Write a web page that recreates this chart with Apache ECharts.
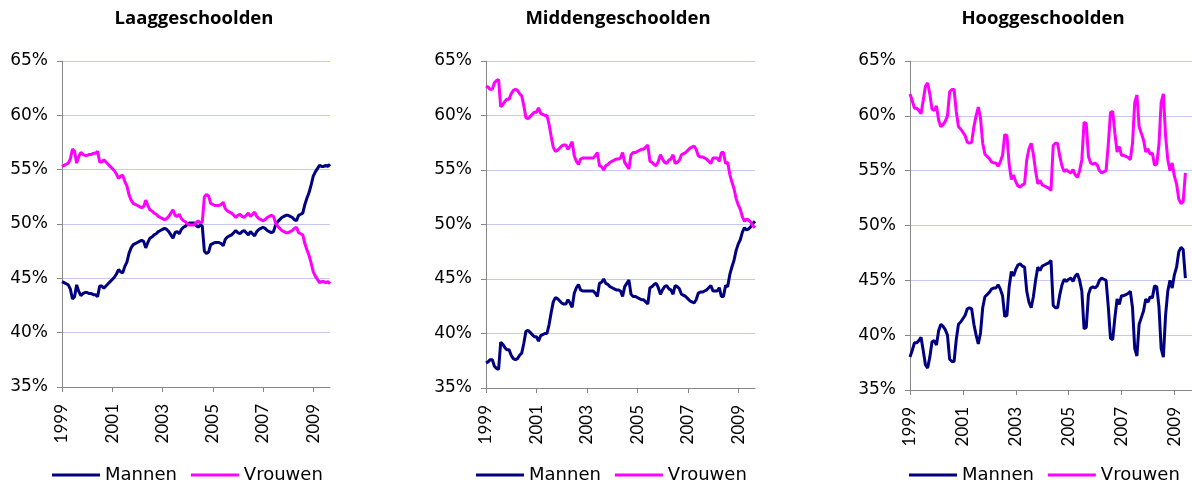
<!DOCTYPE html>
<html>
<head>
<meta charset="utf-8">
<script src="https://cdn.jsdelivr.net/npm/echarts@6/dist/echarts.min.js"></script>
<style>
  html, body { margin: 0; padding: 0; background: #fff; }
  #chart { width: 1192px; height: 487px; }
</style>
</head>
<body>
<div id="chart"></div>
<script>
// monthly categories, Jan 1999 .. Sep 2009
const months = [];
for (let y = 1999; y <= 2009; y++) {
  for (let m = 1; m <= 12; m++) {
    if (y === 2009 && m > 9) break;
    months.push(y + '-' + (m < 10 ? '0' + m : m));
  }
}

const titles = ['Laaggeschoolden', 'Middengeschoolden', 'Hooggeschoolden'];

// share (%) per month
const laagMannen = [
  44.7,44.6,44.5,44.4,44.0,43.1,43.3,44.4,43.8,43.4,
  43.6,43.7,43.7,43.6,43.6,43.5,43.5,43.3,44.3,44.3,
  44.1,44.3,44.5,44.7,44.9,45.1,45.4,45.8,45.6,45.5,
  46.1,46.5,47.3,47.8,48.1,48.2,48.3,48.4,48.5,48.4,
  47.8,48.3,48.7,48.8,49.0,49.1,49.3,49.4,49.5,49.6,
  49.5,49.3,49.0,48.7,49.2,49.3,49.1,49.5,49.7,49.8,
  50.0,50.1,50.1,50.1,49.9,49.7,49.9,49.8,47.5,47.3,
  47.4,48.1,48.2,48.3,48.3,48.3,48.2,48.0,48.6,48.8,
  48.9,49.0,49.2,49.4,49.2,49.1,49.3,49.4,49.2,49.0,
  49.3,49.1,48.9,49.3,49.5,49.6,49.7,49.6,49.4,49.3,
  49.2,49.3,49.9,50.2,50.4,50.6,50.7,50.8,50.8,50.7,
  50.6,50.4,50.3,50.8,50.9,51.0,51.8,52.4,52.9,53.6,
  54.4,54.8,55.1,55.4,55.3,55.3,55.4,55.3,55.5
];
const laagVrouwen = [
  55.3,55.4,55.5,55.6,56.0,56.9,56.7,55.6,56.2,56.6,
  56.4,56.3,56.3,56.4,56.4,56.5,56.5,56.7,55.7,55.7,
  55.9,55.7,55.5,55.3,55.1,54.9,54.6,54.2,54.4,54.5,
  53.9,53.5,52.7,52.2,51.9,51.8,51.7,51.6,51.5,51.6,
  52.2,51.7,51.3,51.2,51.0,50.9,50.7,50.6,50.5,50.4,
  50.5,50.7,51.0,51.3,50.8,50.7,50.9,50.5,50.3,50.2,
  50.0,49.9,49.9,49.9,50.1,50.3,50.1,50.2,52.5,52.7,
  52.6,51.9,51.8,51.7,51.7,51.7,51.8,52.0,51.4,51.2,
  51.1,51.0,50.8,50.6,50.8,50.9,50.7,50.6,50.8,51.0,
  50.7,50.9,51.1,50.7,50.5,50.4,50.3,50.4,50.6,50.7,
  50.8,50.7,50.1,49.8,49.6,49.4,49.3,49.2,49.2,49.3,
  49.4,49.6,49.7,49.2,49.1,49.0,48.2,47.6,47.1,46.4,
  45.6,45.2,44.9,44.6,44.7,44.7,44.6,44.7,44.5
];

const middenMannen = [
  37.3,37.4,37.6,37.6,37.0,36.8,36.7,39.2,39.0,38.7,
  38.5,38.5,38.0,37.7,37.6,37.7,38.0,38.2,39.1,40.2,
  40.3,40.1,39.9,39.7,39.7,39.3,39.8,39.9,40.0,40.0,
  40.8,41.9,42.9,43.3,43.2,43.0,42.8,42.7,42.7,43.1,
  42.8,42.4,43.7,44.2,44.5,44.0,43.9,43.9,43.9,43.9,
  43.9,43.9,43.7,43.4,44.6,44.7,45.0,44.6,44.5,44.3,
  44.2,44.1,44.0,44.0,43.9,43.4,44.3,44.6,44.9,43.6,
  43.4,43.4,43.3,43.2,43.1,43.1,42.9,42.7,44.2,44.3,
  44.5,44.6,44.2,43.6,44.0,44.3,44.4,44.1,44.0,43.6,
  44.4,44.3,44.1,43.6,43.5,43.4,43.2,43.0,42.9,42.8,
  43.1,43.7,43.8,43.8,43.9,44.0,44.2,44.4,43.9,43.9,
  43.9,44.2,43.4,43.4,44.4,44.3,45.4,46.1,46.7,47.6,
  48.2,48.6,49.3,49.7,49.5,49.6,49.8,50.1,50.3
];
const middenVrouwen = [
  62.7,62.6,62.4,62.4,63.0,63.2,63.3,60.8,61.0,61.3,
  61.5,61.5,62.0,62.3,62.4,62.3,62.0,61.8,60.9,59.8,
  59.7,59.9,60.1,60.3,60.3,60.7,60.2,60.1,60.0,60.0,
  59.2,58.1,57.1,56.7,56.8,57.0,57.2,57.3,57.3,56.9,
  57.2,57.6,56.3,55.8,55.5,56.0,56.1,56.1,56.1,56.1,
  56.1,56.1,56.3,56.6,55.4,55.3,55.0,55.4,55.5,55.7,
  55.8,55.9,56.0,56.0,56.1,56.6,55.7,55.4,55.1,56.4,
  56.6,56.6,56.7,56.8,56.9,56.9,57.1,57.3,55.8,55.7,
  55.5,55.4,55.8,56.4,56.0,55.7,55.6,55.9,56.0,56.4,
  55.6,55.7,55.9,56.4,56.5,56.6,56.8,57.0,57.1,57.2,
  56.9,56.3,56.2,56.2,56.1,56.0,55.8,55.6,56.1,56.1,
  56.1,55.8,56.6,56.6,55.6,55.7,54.6,53.9,53.3,52.4,
  51.8,51.4,50.7,50.3,50.5,50.4,50.2,49.9,49.7
];

const hoogMannen = [
  38.0,38.6,39.3,39.3,39.5,39.8,38.6,37.3,37.0,38.0,
  39.4,39.5,39.1,40.4,41.0,40.8,40.5,40.0,37.8,37.6,
  37.6,39.6,41.0,41.2,41.5,41.8,42.4,42.5,42.4,41.0,
  40.0,39.2,40.2,42.5,43.5,43.7,43.9,44.2,44.3,44.3,
  44.6,44.2,43.6,41.7,41.8,44.4,45.8,45.4,46.0,46.4,
  46.5,46.3,46.2,44.0,43.0,42.5,43.5,45.0,46.2,45.9,
  46.3,46.4,46.5,46.6,46.8,42.7,42.5,42.5,43.7,44.6,
  45.1,44.9,45.1,45.2,44.9,45.4,45.6,45.0,44.0,40.6,
  40.7,43.7,44.3,44.4,44.3,44.5,45.0,45.2,45.1,45.0,
  42.6,39.7,39.6,41.6,43.3,42.8,43.6,43.6,43.7,43.8,
  44.0,42.5,38.8,38.1,41.0,41.6,42.2,43.3,43.0,43.5,
  43.4,44.5,44.4,42.6,38.8,38.0,41.8,44.0,45.0,44.3,
  45.5,46.2,47.6,48.0,47.8,45.2
];
const hoogVrouwen = [
  62.0,61.4,60.7,60.7,60.5,60.2,61.4,62.7,63.0,62.0,
  60.6,60.5,60.9,59.6,59.0,59.2,59.5,60.0,62.2,62.4,
  62.4,60.4,59.0,58.8,58.5,58.2,57.6,57.5,57.6,59.0,
  60.0,60.8,59.8,57.5,56.5,56.3,56.1,55.8,55.7,55.7,
  55.4,55.8,56.4,58.3,58.2,55.6,54.2,54.6,54.0,53.6,
  53.5,53.7,53.8,56.0,57.0,57.5,56.5,55.0,53.8,54.1,
  53.7,53.6,53.5,53.4,53.2,57.3,57.5,57.5,56.3,55.4,
  54.9,55.1,54.9,54.8,55.1,54.6,54.4,55.0,56.0,59.4,
  59.3,56.3,55.7,55.6,55.7,55.5,55.0,54.8,54.9,55.0,
  57.4,60.3,60.4,58.4,56.7,57.2,56.4,56.4,56.3,56.2,
  56.0,57.5,61.2,61.9,59.0,58.4,57.8,56.7,57.0,56.5,
  56.6,55.5,55.6,57.4,61.2,62.0,58.2,56.0,55.0,55.7,
  54.5,53.8,52.4,52.0,52.2,54.8
];

const mannenSets = [laagMannen, middenMannen, hoogMannen];
const vrouwenSets = [laagVrouwen, middenVrouwen, hoogVrouwen];

const yTicks = { min: 35, max: 65, step: 5 };

const NAVY = '#000080';
const PINK = '#ff00ff';

// panel boxes
const grids = [
  { left: 62, top: 61, width: 268, height: 326 },
  { left: 486, top: 61, width: 269, height: 327 },
  { left: 910, top: 61, width: 288, height: 329 }
];
const titleX = [194, 618, 1043];
const legendX = [52, 476, 909];

const everyTwoYears = (idx) => idx % 24 === 0;

const chart = echarts.init(document.getElementById('chart'));

const option = {
  animation: false,
  backgroundColor: '#fff',
  title: titles.map((t, i) => ({
    text: t,
    left: titleX[i],
    top: 9,
    padding: 0,
    textAlign: 'center',
    textStyle: { fontFamily: 'Open Sans', fontWeight: 'bold', fontSize: 18.5, color: '#000' }
  })),
  legend: legendX.map((x) => ({
    data: ['Mannen', 'Vrouwen'],
    left: x,
    top: 466,
    padding: 0,
    icon: 'rect',
    itemWidth: 48,
    itemHeight: 3,
    itemGap: 14,
    textStyle: { fontFamily: 'DejaVu Sans', fontSize: 18, color: '#000' }
  })),
  grid: grids,
  xAxis: grids.map((g, i) => ({
    type: 'category',
    gridIndex: i,
    data: months,
    boundaryGap: false,
    axisLine: { show: true, lineStyle: { color: '#868686', width: 1 } },
    axisTick: { show: true, interval: everyTwoYears, length: 5, lineStyle: { color: '#868686' } },
    axisLabel: {
      interval: everyTwoYears,
      rotate: 90,
      margin: 17,
      formatter: (v) => v.slice(0, 4),
      fontFamily: 'Lato',
      fontSize: 17,
      color: '#000'
    },
    splitLine: { show: false }
  })),
  yAxis: grids.map((g, i) => ({
    type: 'value',
    gridIndex: i,
    min: yTicks.min,
    max: yTicks.max,
    interval: yTicks.step,
    axisLine: { show: true, lineStyle: { color: '#868686', width: 1 } },
    axisTick: { show: true, length: 5, lineStyle: { color: '#868686' } },
    axisLabel: {
      formatter: '{value}%',
      margin: 14,
      fontFamily: 'DejaVu Sans',
      fontSize: 17,
      color: '#000'
    },
    splitLine: { show: true, lineStyle: { color: '#c8c8f2', width: 1 } }
  })),
  series: []
};

for (let i = 0; i < 3; i++) {
  option.series.push({
    name: 'Mannen',
    type: 'line',
    xAxisIndex: i,
    yAxisIndex: i,
    data: mannenSets[i],
    showSymbol: false,
    lineStyle: { color: NAVY, width: 3 },
    itemStyle: { color: NAVY }
  });
  option.series.push({
    name: 'Vrouwen',
    type: 'line',
    xAxisIndex: i,
    yAxisIndex: i,
    data: vrouwenSets[i],
    showSymbol: false,
    lineStyle: { color: PINK, width: 3 },
    itemStyle: { color: PINK }
  });
}

chart.setOption(option);
</script>
</body>
</html>
